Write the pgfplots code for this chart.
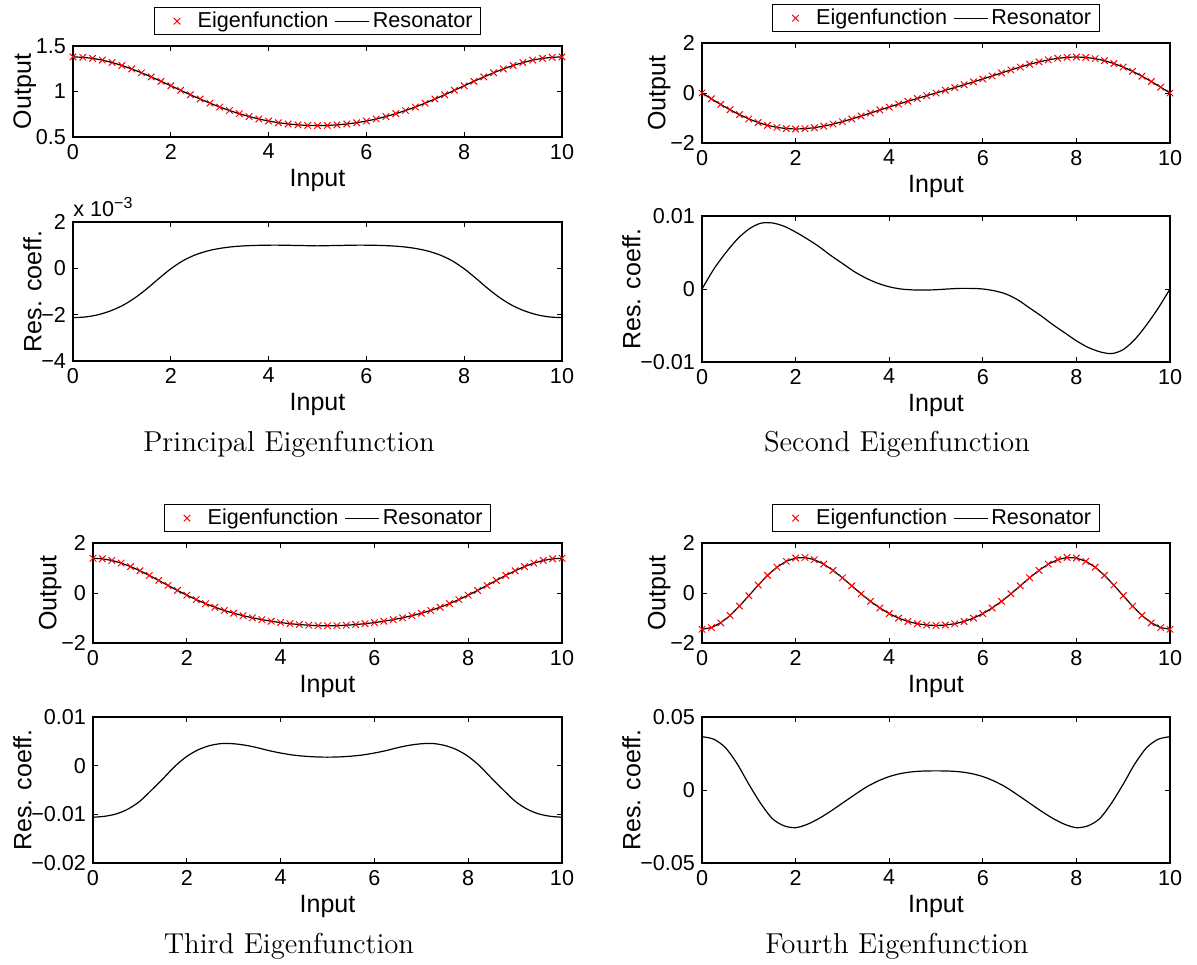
\documentclass[border=0pt]{standalone}
\usepackage{fontspec}
\usepackage{pgfplots}
\usepackage{pgfplotstable}
\pgfplotsset{compat=1.18}
\newfontfamily\arial{Liberation Sans}
\newcommand{\tickfont}{\arial\fontsize{10.8}{12}\selectfont}
\newcommand{\labfont}{\arial\fontsize{12.5}{14}\selectfont}
\newcommand{\legfont}{\arial\fontsize{10.8}{12}\selectfont}

\pgfplotstableread{
x y
0 1.380
0.2 1.376
0.4 1.364
0.6 1.345
0.8 1.318
1.0 1.286
1.2 1.248
1.4 1.206
1.6 1.160
1.8 1.112
2.0 1.063
2.2 1.013
2.4 0.964
2.6 0.917
2.8 0.872
3.0 0.829
3.2 0.791
3.4 0.756
3.6 0.725
3.8 0.698
4.0 0.675
4.2 0.657
4.4 0.643
4.6 0.633
4.8 0.627
5.0 0.625
5.2 0.627
5.4 0.633
5.6 0.643
5.8 0.657
6.0 0.675
6.2 0.698
6.4 0.725
6.6 0.756
6.8 0.791
7.0 0.829
7.2 0.872
7.4 0.917
7.6 0.964
7.8 1.013
8.0 1.063
8.2 1.112
8.4 1.160
8.6 1.206
8.8 1.248
9.0 1.286
9.2 1.318
9.4 1.345
9.6 1.364
9.8 1.376
10 1.380
}\eigA

\pgfplotstableread{
x y
0 0
0.2 -0.233
0.4 -0.459
0.6 -0.672
0.8 -0.866
1.0 -1.037
1.2 -1.181
1.4 -1.294
1.6 -1.375
1.8 -1.423
2.0 -1.440
2.2 -1.428
2.4 -1.389
2.6 -1.326
2.8 -1.244
3.0 -1.147
3.2 -1.038
3.4 -0.922
3.6 -0.802
3.8 -0.682
4.0 -0.562
4.2 -0.444
4.4 -0.330
4.6 -0.218
4.8 -0.108
5.0 0
5.2 0.108
5.4 0.218
5.6 0.330
5.8 0.444
6.0 0.562
6.2 0.682
6.4 0.802
6.6 0.922
6.8 1.038
7.0 1.147
7.2 1.244
7.4 1.326
7.6 1.389
7.8 1.428
8.0 1.440
8.2 1.423
8.4 1.375
8.6 1.294
8.8 1.181
9.0 1.037
9.2 0.866
9.4 0.672
9.6 0.459
9.8 0.233
10 0
}\eigB

\pgfplotstableread{
x y
0 1.390
0.2 1.368
0.4 1.302
0.6 1.197
0.8 1.057
1.0 0.890
1.2 0.703
1.4 0.504
1.6 0.302
1.8 0.103
2.0 -0.087
2.2 -0.264
2.4 -0.426
2.6 -0.570
2.8 -0.698
3.0 -0.810
3.2 -0.907
3.4 -0.992
3.6 -1.065
3.8 -1.129
4.0 -1.183
4.2 -1.228
4.4 -1.263
4.6 -1.289
4.8 -1.305
5.0 -1.310
5.2 -1.305
5.4 -1.289
5.6 -1.263
5.8 -1.228
6.0 -1.183
6.2 -1.129
6.4 -1.065
6.6 -0.992
6.8 -0.907
7.0 -0.810
7.2 -0.698
7.4 -0.570
7.6 -0.426
7.8 -0.264
8.0 -0.087
8.2 0.103
8.4 0.302
8.6 0.504
8.8 0.703
9.0 0.890
9.2 1.057
9.4 1.197
9.6 1.302
9.8 1.368
10 1.390
}\eigC

\pgfplotstableread{
x y
0 -1.450
0.2 -1.385
0.4 -1.195
0.6 -0.899
0.8 -0.525
1.0 -0.108
1.2 0.315
1.4 0.706
1.6 1.033
1.8 1.269
2.0 1.400
2.2 1.420
2.4 1.334
2.6 1.156
2.8 0.906
3.0 0.608
3.2 0.287
3.4 -0.033
3.6 -0.334
3.8 -0.600
4.0 -0.825
4.2 -1.004
4.4 -1.138
4.6 -1.230
4.8 -1.283
5.0 -1.300
5.2 -1.283
5.4 -1.230
5.6 -1.138
5.8 -1.004
6.0 -0.825
6.2 -0.600
6.4 -0.334
6.6 -0.033
6.8 0.287
7.0 0.608
7.2 0.906
7.4 1.156
7.6 1.334
7.8 1.420
8.0 1.400
8.2 1.269
8.4 1.033
8.6 0.706
8.8 0.315
9.0 -0.108
9.2 -0.525
9.4 -0.899
9.6 -1.195
9.8 -1.385
10 -1.450
}\eigD

\pgfplotstableread{
x y
0 -2.13e-3
0.25 -2.10e-3
0.5 -2.01e-3
0.75 -1.85e-3
1 -1.62e-3
1.25 -1.30e-3
1.5 -0.90e-3
1.75 -0.45e-3
2 -0.02e-3
2.25 0.33e-3
2.5 0.58e-3
2.75 0.75e-3
3 0.86e-3
3.25 0.93e-3
3.5 0.97e-3
3.75 0.99e-3
4 1.00e-3
4.25 1.00e-3
4.5 0.99e-3
4.75 0.98e-3
5 0.97e-3
5.25 0.98e-3
5.5 0.99e-3
5.75 1.00e-3
6 1.00e-3
6.25 0.99e-3
6.5 0.97e-3
6.75 0.93e-3
7 0.86e-3
7.25 0.75e-3
7.5 0.58e-3
7.75 0.33e-3
8 -0.02e-3
8.25 -0.45e-3
8.5 -0.90e-3
8.75 -1.30e-3
9 -1.62e-3
9.25 -1.85e-3
9.5 -2.01e-3
9.75 -2.10e-3
10 -2.13e-3
}\resA

\pgfplotstableread{
x y
0 0
0.25 2.7e-3
0.5 4.9e-3
0.75 6.8e-3
1.0 8.2e-3
1.25 9.0e-3
1.5 9.05e-3
1.75 8.6e-3
2.0 7.8e-3
2.25 6.85e-3
2.5 5.8e-3
2.75 4.6e-3
3.0 3.5e-3
3.25 2.4e-3
3.5 1.5e-3
3.75 0.8e-3
4.0 0.3e-3
4.25 0.0
4.5 -0.12e-3
4.75 -0.15e-3
5.0 -0.1e-3
5.25 0.0
5.5 0.08e-3
5.75 0.08e-3
6.0 0.0
6.25 -0.25e-3
6.5 -0.7e-3
6.75 -1.5e-3
7.0 -2.6e-3
7.25 -3.7e-3
7.5 -4.9e-3
7.75 -6.0e-3
8.0 -7.1e-3
8.25 -8.0e-3
8.5 -8.6e-3
8.75 -8.85e-3
9.0 -8.3e-3
9.25 -6.9e-3
9.5 -4.9e-3
9.75 -2.6e-3
10 0
}\resB

\pgfplotstableread{
x y
0 -10.6e-3
0.25 -10.4e-3
0.5 -9.9e-3
0.75 -8.9e-3
1.0 -7.3e-3
1.25 -5.0e-3
1.5 -2.6e-3
1.75 -0.1e-3
2.0 1.9e-3
2.25 3.3e-3
2.5 4.15e-3
2.75 4.55e-3
3.0 4.5e-3
3.25 4.2e-3
3.5 3.7e-3
3.75 3.1e-3
4.0 2.6e-3
4.25 2.2e-3
4.5 1.95e-3
4.75 1.8e-3
5.0 1.75e-3
5.25 1.8e-3
5.5 1.95e-3
5.75 2.2e-3
6.0 2.6e-3
6.25 3.1e-3
6.5 3.7e-3
6.75 4.2e-3
7.0 4.5e-3
7.25 4.55e-3
7.5 4.15e-3
7.75 3.3e-3
8.0 1.9e-3
8.25 -0.1e-3
8.5 -2.6e-3
8.75 -5.0e-3
9.0 -7.3e-3
9.25 -8.9e-3
9.5 -9.9e-3
9.75 -10.4e-3
10 -10.6e-3
}\resC

\pgfplotstableread{
x y
0 36.5e-3
0.25 34.8e-3
0.5 29.0e-3
0.75 18.0e-3
1.0 4.0e-3
1.25 -9.0e-3
1.5 -19.5e-3
1.75 -24.5e-3
2.0 -25.8e-3
2.25 -23.5e-3
2.5 -19.5e-3
2.75 -14.5e-3
3.0 -9.0e-3
3.25 -3.5e-3
3.5 1.8e-3
3.75 6.0e-3
4.0 9.2e-3
4.25 11.3e-3
4.5 12.5e-3
4.75 13.0e-3
5.0 13.1e-3
5.25 13.0e-3
5.5 12.5e-3
5.75 11.3e-3
6.0 9.2e-3
6.25 6.0e-3
6.5 1.8e-3
6.75 -3.5e-3
7.0 -9.0e-3
7.25 -14.5e-3
7.5 -19.5e-3
7.75 -23.5e-3
8.0 -25.8e-3
8.25 -24.5e-3
8.5 -19.5e-3
8.75 -9.0e-3
9.0 4.0e-3
9.25 18.0e-3
9.5 29.0e-3
9.75 34.8e-3
10 36.5e-3
}\resD

\pgfplotsset{
  matlab/.style={
    scale only axis, anchor=south west,
    xmin=0, xmax=10,
    xtick={0,2,4,6,8,10}, xticklabels={0,2,4,6,8,10},
    scaled y ticks=false, scaled x ticks=false,
    tick align=inside, major tick length=2.7pt,
    tick style={black, line width=0.4pt},
    axis line style={line width=0.6pt},
    tick label style={font=\tickfont},
    label style={font=\labfont},
    xlabel={Input},
    xlabel shift=-2pt,
    ylabel shift=-7pt,
    clip=false,
  },
  outp/.style={matlab, ylabel={Output},
    legend columns=2,
    legend style={at={(0.5,1)}, anchor=south, yshift=5.5pt, draw=black,
      line width=0.5pt, font=\legfont, inner xsep=2.5pt, inner ysep=0.5pt,
      nodes={inner sep=1.5pt},
      /tikz/every even column/.append style={column sep=1.5pt}},
  },
  resp/.style={matlab, ylabel={Res. coeff.}},
  emark/.style={only marks, mark=x, mark size=2.3pt, red, mark options={line width=0.5pt},
    legend image code/.code={%
      \path (0cm,0cm) (0.6cm,0cm);
      \draw[##1] plot coordinates {(0.3cm,0cm)};}},
  rline/.style={black, line width=0.6pt, no marks},
}

\begin{document}
\begin{tikzpicture}
\path[use as bounding box] (0,0) rectangle (598.5pt,482pt);

% Panel 1
\begin{axis}[outp, at={(36.5pt,413.5pt)}, width=244.5pt, height=45.5pt,
  ymin=0.5, ymax=1.5, ytick={0.5,1,1.5}, yticklabels={0.5,1,1.5}]
\addplot[emark] table[x=x,y=y] {\eigA};
\addplot[rline] table[x=x,y=y] {\eigA};
\legend{Eigenfunction, Resonator}
\end{axis}

% Panel 2
\begin{axis}[resp, at={(36.5pt,301.5pt)}, width=244.5pt, height=69.5pt,
  ymin=-4e-3, ymax=2e-3, ytick={-4e-3,-2e-3,0,2e-3}, yticklabels={−4,−2,0,2}]
\addplot[rline, smooth] table[x=x,y=y] {\resA};
\node[anchor=base west, font=\tickfont, inner sep=0pt] at (rel axis cs:0,1) [yshift=2.5pt] {x 10\raisebox{0.75ex}{\arial\fontsize{8}{8}\selectfont −3}};
\end{axis}

% Panel 3
\begin{axis}[outp, at={(351pt,410.5pt)}, width=234pt, height=50pt,
  ymin=-2, ymax=2, ytick={-2,0,2}, yticklabels={−2,0,2}]
\addplot[emark] table[x=x,y=y] {\eigB};
\addplot[rline] table[x=x,y=y] {\eigB};
\legend{Eigenfunction, Resonator}
\end{axis}

% Panel 4
\begin{axis}[resp, at={(351pt,301pt)}, width=234pt, height=73pt,
  ymin=-0.01, ymax=0.01, ytick={-0.01,0,0.01}, yticklabels={−0.01,0,0.01}]
\addplot[rline, smooth] table[x=x,y=y] {\resB};
\end{axis}

% Panel 5
\begin{axis}[outp, at={(46.5pt,160.5pt)}, width=234.5pt, height=50pt,
  ymin=-2, ymax=2, ytick={-2,0,2}, yticklabels={−2,0,2}]
\addplot[emark] table[x=x,y=y] {\eigC};
\addplot[rline] table[x=x,y=y] {\eigC};
\legend{Eigenfunction, Resonator}
\end{axis}

% Panel 6
\begin{axis}[outp, at={(351pt,160.5pt)}, width=234pt, height=50pt,
  ymin=-2, ymax=2, ytick={-2,0,2}, yticklabels={−2,0,2}]
\addplot[emark] table[x=x,y=y] {\eigD};
\addplot[rline] table[x=x,y=y] {\eigD};
\legend{Eigenfunction, Resonator}
\end{axis}

% Panel 7
\begin{axis}[resp, at={(46.5pt,50.5pt)}, width=234.5pt, height=73pt,
  ymin=-0.02, ymax=0.01, ytick={-0.02,-0.01,0,0.01}, yticklabels={−0.02,−0.01,0,0.01}]
\addplot[rline, smooth] table[x=x,y=y] {\resC};
\end{axis}

% Panel 8
\begin{axis}[resp, at={(351pt,50.5pt)}, width=234pt, height=73pt,
  ymin=-0.05, ymax=0.05, ytick={-0.05,0,0.05}, yticklabels={−0.05,0,0.05}]
\addplot[rline, smooth] table[x=x,y=y] {\resD};
\end{axis}

\node[anchor=base, font=\fontsize{14.4}{16}\selectfont] at (144.5pt,256pt) {Principal Eigenfunction};
\node[anchor=base, font=\fontsize{14.4}{16}\selectfont] at (448.5pt,256pt) {Second Eigenfunction};
\node[anchor=base, font=\fontsize{14.4}{16}\selectfont] at (144.5pt,5.5pt) {Third Eigenfunction};
\node[anchor=base, font=\fontsize{14.4}{16}\selectfont] at (448.5pt,5.5pt) {Fourth Eigenfunction};
\end{tikzpicture}
\end{document}
